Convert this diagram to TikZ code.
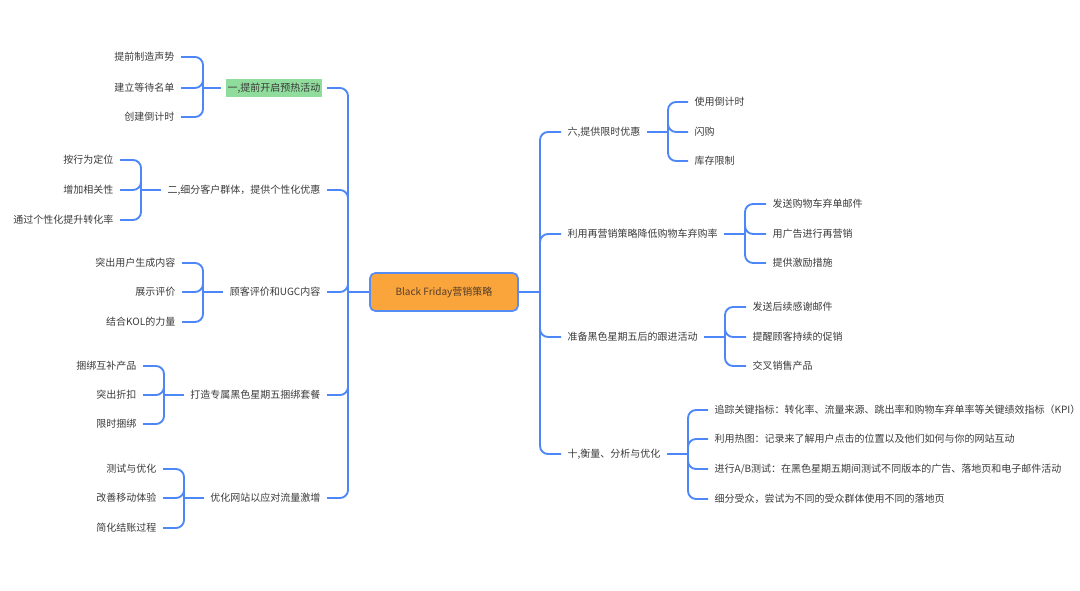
\documentclass[tikz,border=0pt]{standalone}
\usepackage{fontspec}
\newfontfamily\cjk{Noto Sans CJK SC}

\tikzset{
  txt/.style={font=\cjk\fontsize{7.5pt}{9pt}\selectfont, text={rgb,255:red,58;green,58;blue,58}, inner xsep=1pt, inner ysep=1.5pt, outer xsep=4pt},
  link/.style={draw={rgb,255:red,77;green,134;blue,247}, line width=1.4pt, rounded corners=6pt},
  rootbox/.style={draw={rgb,255:red,88;green,140;blue,245}, line width=1.3pt, fill={rgb,255:red,250;green,164;blue,60}, rounded corners=4pt, minimum width=111pt, minimum height=28.5pt, inner sep=0pt},
}

\begin{document}
\begin{tikzpicture}[x=0.75pt,y=0.75pt,yscale=-1,xscale=1]
\useasboundingbox (0,0) rectangle (1080,591);

% Root Node
\draw (444,292) node [rootbox] (root) {\cjk\fontsize{7.5pt}{9pt}\selectfont\color[RGB]{84,62,42}Black Friday营销策略};

% Trunk points
\coordinate (tl) at (348,292);
\coordinate (tr) at (540,292);

% Left branches
\draw (327,88) node [txt, anchor=east, fill={rgb,255:red,144;green,220;blue,156}, inner ysep=2.5pt] (b1) {一,提前开启预热活动};
\draw (327,190) node [txt, anchor=east] (b2) {二,细分客户群体，提供个性化优惠};
\draw (327,292) node [txt, anchor=east] (b3) {顾客评价和UGC内容};
\draw (327,395) node [txt, anchor=east] (b4) {打造专属黑色星期五捆绑套餐};
\draw (327,498) node [txt, anchor=east] (b5) {优化网站以应对流量激增};

% Right branches
\draw (561,132) node [txt, anchor=west] (r1) {六,提供限时优惠};
\draw (561,234) node [txt, anchor=west] (r2) {利用再营销策略降低购物车弃购率};
\draw (561,337) node [txt, anchor=west] (r3) {准备黑色星期五后的跟进活动};
\draw (561,454) node [txt, anchor=west] (r4) {十,衡量、分析与优化};

% Leaves of b1
\draw (181,57) node [txt, anchor=east] (b1a) {提前制造声势};
\draw (181,88) node [txt, anchor=east] (b1b) {建立等待名单};
\draw (181,117) node [txt, anchor=east] (b1c) {创建倒计时};
% Leaves of b2
\draw (120,160) node [txt, anchor=east] (b2a) {按行为定位};
\draw (120,190) node [txt, anchor=east] (b2b) {增加相关性};
\draw (120,220) node [txt, anchor=east] (b2c) {通过个性化提升转化率};
% Leaves of b3
\draw (182,263) node [txt, anchor=east] (b3a) {突出用户生成内容};
\draw (182,292) node [txt, anchor=east] (b3b) {展示评价};
\draw (182,322) node [txt, anchor=east] (b3c) {结合KOL的力量};
% Leaves of b4
\draw (143,366) node [txt, anchor=east] (b4a) {捆绑互补产品};
\draw (143,395) node [txt, anchor=east] (b4b) {突出折扣};
\draw (143,424) node [txt, anchor=east] (b4c) {限时捆绑};
% Leaves of b5
\draw (163,469) node [txt, anchor=east] (b5a) {测试与优化};
\draw (163,498) node [txt, anchor=east] (b5b) {改善移动体验};
\draw (163,528) node [txt, anchor=east] (b5c) {简化结账过程};

% Leaves of r1
\draw (688,102) node [txt, anchor=west] (r1a) {使用倒计时};
\draw (688,132) node [txt, anchor=west] (r1b) {闪购};
\draw (688,161) node [txt, anchor=west] (r1c) {库存限制};
% Leaves of r2
\draw (766,204) node [txt, anchor=west] (r2a) {发送购物车弃单邮件};
\draw (766,234) node [txt, anchor=west] (r2b) {用广告进行再营销};
\draw (766,263) node [txt, anchor=west] (r2c) {提供激励措施};
% Leaves of r3
\draw (746,307) node [txt, anchor=west] (r3a) {发送后续感谢邮件};
\draw (746,337) node [txt, anchor=west] (r3b) {提醒顾客持续的促销};
\draw (746,366) node [txt, anchor=west] (r3c) {交叉销售产品};
% Leaves of r4
\draw (708,410) node [txt, anchor=west] (r4a) {追踪关键指标：转化率、流量来源、跳出率和购物车弃单率等关键绩效指标（KPI）};
\draw (708,439) node [txt, anchor=west] (r4b) {利用热图：记录来了解用户点击的位置以及他们如何与你的网站互动};
\draw (708,469) node [txt, anchor=west] (r4c) {进行A/B测试：在黑色星期五期间测试不同版本的广告、落地页和电子邮件活动};
\draw (708,499) node [txt, anchor=west] (r4d) {细分受众，尝试为不同的受众群体使用不同的落地页};

% Bracket points
\coordinate (k1) at (203,88);
\coordinate (k2) at (141,190);
\coordinate (k3) at (203,292);
\coordinate (k4) at (164,395);
\coordinate (k5) at (184,498);
\coordinate (k6) at (668,132);
\coordinate (k7) at (745,234);
\coordinate (k8) at (725,337);
\coordinate (k9) at (688,454);

%Straight Lines: root to trunks
\draw [link] (root.west) -- (tl);
\draw [link] (root.east) -- (tr);
%Straight Lines: trunks to branches
\draw [link] (tl) |- (b1.east);
\draw [link] (tl) |- (b2.east);
\draw [link] (tl) |- (b3.east);
\draw [link] (tl) |- (b4.east);
\draw [link] (tl) |- (b5.east);
\draw [link] (tr) |- (r1.west);
\draw [link] (tr) |- (r2.west);
\draw [link] (tr) |- (r3.west);
\draw [link] (tr) |- (r4.west);

%Straight Lines: branches to leaves
\draw [link] (b1.west) -- (k1);
\draw [link] (k1) |- (b1a.east);
\draw [link] (k1) |- (b1b.east);
\draw [link] (k1) |- (b1c.east);
\draw [link] (b2.west) -- (k2);
\draw [link] (k2) |- (b2a.east);
\draw [link] (k2) |- (b2b.east);
\draw [link] (k2) |- (b2c.east);
\draw [link] (b3.west) -- (k3);
\draw [link] (k3) |- (b3a.east);
\draw [link] (k3) |- (b3b.east);
\draw [link] (k3) |- (b3c.east);
\draw [link] (b4.west) -- (k4);
\draw [link] (k4) |- (b4a.east);
\draw [link] (k4) |- (b4b.east);
\draw [link] (k4) |- (b4c.east);
\draw [link] (b5.west) -- (k5);
\draw [link] (k5) |- (b5a.east);
\draw [link] (k5) |- (b5b.east);
\draw [link] (k5) |- (b5c.east);

\draw [link] (r1.east) -- (k6);
\draw [link] (k6) |- (r1a.west);
\draw [link] (k6) |- (r1b.west);
\draw [link] (k6) |- (r1c.west);
\draw [link] (r2.east) -- (k7);
\draw [link] (k7) |- (r2a.west);
\draw [link] (k7) |- (r2b.west);
\draw [link] (k7) |- (r2c.west);
\draw [link] (r3.east) -- (k8);
\draw [link] (k8) |- (r3a.west);
\draw [link] (k8) |- (r3b.west);
\draw [link] (k8) |- (r3c.west);
\draw [link] (r4.east) -- (k9);
\draw [link] (k9) |- (r4a.west);
\draw [link] (k9) |- (r4b.west);
\draw [link] (k9) |- (r4c.west);
\draw [link] (k9) |- (r4d.west);

\end{tikzpicture}
\end{document}
